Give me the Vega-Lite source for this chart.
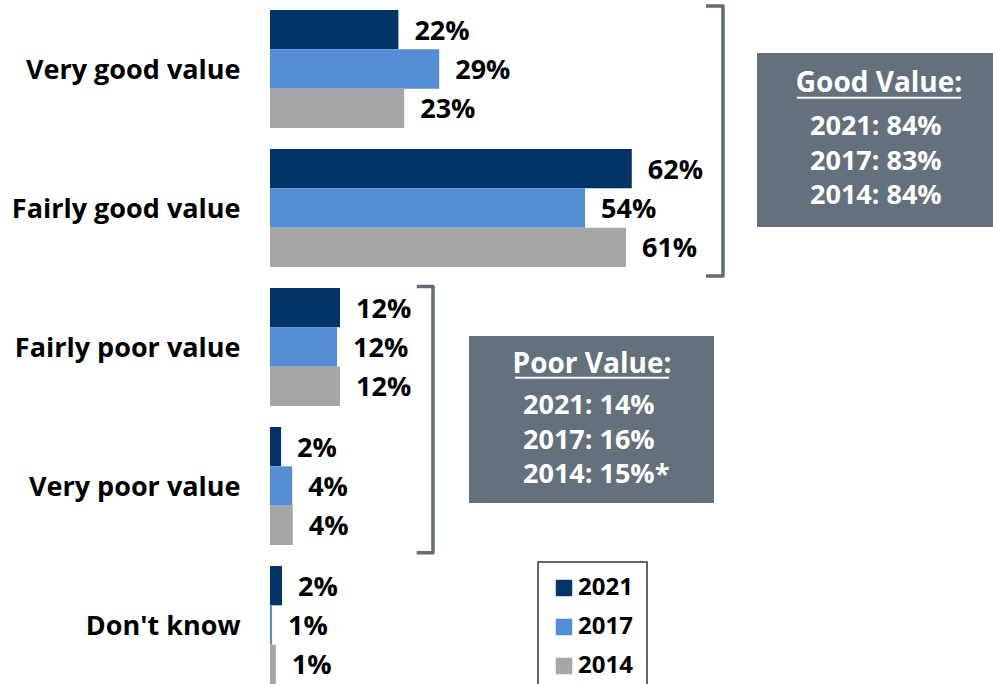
{
  "$schema": "https://vega.github.io/schema/vega-lite/v6.json",
  "width": 723,
  "height": 684,
  "autosize": {"type": "none"},
  "padding": {"left": 270, "top": 0, "right": 0, "bottom": 0},
  "config": {
    "view": {"stroke": null},
    "font": "Open Sans",
    "legend": {"strokeWidth": 1.5}
  },
  "layer": [
    {
      "data": {
        "values": [
          {"category": "Very good value", "year": "2021", "value": 22, "label": "22%"},
          {"category": "Very good value", "year": "2017", "value": 29, "label": "29%"},
          {"category": "Very good value", "year": "2014", "value": 23, "label": "23%"},
          {"category": "Fairly good value", "year": "2021", "value": 62, "label": "62%"},
          {"category": "Fairly good value", "year": "2017", "value": 54, "label": "54%"},
          {"category": "Fairly good value", "year": "2014", "value": 61, "label": "61%"},
          {"category": "Fairly poor value", "year": "2021", "value": 12, "label": "12%"},
          {"category": "Fairly poor value", "year": "2017", "value": 11.5, "label": "12%"},
          {"category": "Fairly poor value", "year": "2014", "value": 12, "label": "12%"},
          {"category": "Very poor value", "year": "2021", "value": 1.9, "label": "2%"},
          {"category": "Very poor value", "year": "2017", "value": 3.8, "label": "4%"},
          {"category": "Very poor value", "year": "2014", "value": 3.9, "label": "4%"},
          {"category": "Don't know", "year": "2021", "value": 2.05, "label": "2%"},
          {"category": "Don't know", "year": "2017", "value": 0.35, "label": "1%"},
          {"category": "Don't know", "year": "2014", "value": 1.0, "label": "1%"}
        ]
      },
      "encoding": {
        "y": {
          "field": "category", "type": "nominal", "sort": null,
          "scale": {"paddingInner": 0.1511, "paddingOuter": 0.036, "align": 1},
          "axis": {"title": null, "domain": false, "ticks": false, "labelPadding": 30,
                   "labelFontSize": 27, "labelFontWeight": "bold", "labelColor": "#000000",
                   "labelFont": "Open Sans", "labelLimit": 300, "labelOffset": 2}
        },
        "yOffset": {"field": "year", "type": "nominal", "sort": ["2021", "2017", "2014"],
                    "scale": {"paddingInner": 0, "paddingOuter": 0}},
        "x": {"field": "value", "type": "quantitative", "scale": {"domain": [0, 123.9], "nice": false, "zero": true}, "axis": null}
      },
      "layer": [
        {
          "mark": {"type": "bar"},
          "encoding": {
            "color": {
              "field": "year", "type": "nominal",
              "scale": {"domain": ["2021", "2017", "2014"], "range": ["#023467", "#558ED5", "#A6A6A6"]},
              "legend": {
                "title": null, "orient": "none", "legendX": 268, "legendY": 562,
                "direction": "vertical",
                "symbolType": "square", "symbolSize": 272, "symbolStrokeWidth": 0,
                "labelFontSize": 24, "labelFontWeight": "bold", "labelColor": "#000000",
                "labelFont": "Open Sans",
                "labelOffset": 2, "rowPadding": 15, "padding": 14,
                "strokeColor": "#333333", "fillColor": "#FFFFFF"
              }
            }
          }
        },
        {
          "mark": {"type": "text", "align": "left", "baseline": "middle", "dx": 16, "dy": 2,
                   "fontSize": 27, "fontWeight": "bold", "color": "#000000", "font": "Open Sans"},
          "encoding": {"text": {"field": "label"}}
        }
      ]
    },
    {
      "data": {
        "values": [
          {"group": "good", "i": 0, "x": 74.72, "y": -0.029},
          {"group": "good", "i": 1, "x": 77.63, "y": -0.029},
          {"group": "good", "i": 2, "x": 77.63, "y": 1.914},
          {"group": "good", "i": 3, "x": 74.72, "y": 1.914},
          {"group": "poor", "i": 0, "x": 25.14, "y": 1.99},
          {"group": "poor", "i": 1, "x": 27.93, "y": 1.99},
          {"group": "poor", "i": 2, "x": 27.93, "y": 3.904},
          {"group": "poor", "i": 3, "x": 25.14, "y": 3.904}
        ]
      },
      "mark": {"type": "line", "color": "#5F6B76", "strokeWidth": 3.5, "strokeJoin": "round", "strokeCap": "butt"},
      "encoding": {
        "x": {"field": "x", "type": "quantitative", "scale": {"domain": [0, 123.9], "nice": false, "zero": true}, "axis": null},
        "y": {"field": "y", "type": "quantitative", "scale": {"domain": [-0.0719, 4.849], "reverse": true, "nice": false, "zero": false}, "axis": null},
        "detail": {"field": "group"},
        "order": {"field": "i"}
      }
    },
    {
      "data": {
        "values": [
          {"box": "good", "x1": 83.46, "x2": 124, "y1": 0.309, "y2": 1.561},
          {"box": "poor", "x1": 34.10, "x2": 76.09, "y1": 2.345, "y2": 3.547}
        ]
      },
      "mark": {"type": "rect", "color": "#64707B"},
      "encoding": {
        "x": {"field": "x1", "type": "quantitative", "scale": {"domain": [0, 123.9], "nice": false, "zero": true}, "axis": null},
        "x2": {"field": "x2"},
        "y": {"field": "y1", "type": "quantitative", "scale": {"domain": [-0.0719, 4.849], "reverse": true, "nice": false, "zero": false}, "axis": null},
        "y2": {"field": "y2"}
      }
    },
    {
      "data": {
        "values": [
          {"x1": 90.32, "x2": 118.42, "y": 0.631},
          {"x1": 41.99, "x2": 68.38, "y": 2.645}
        ]
      },
      "mark": {"type": "rule", "color": "#FFFFFF", "strokeWidth": 2},
      "encoding": {
        "x": {"field": "x1", "type": "quantitative", "scale": {"domain": [0, 123.9], "nice": false, "zero": true}, "axis": null},
        "x2": {"field": "x2"},
        "y": {"field": "y", "type": "quantitative", "scale": {"domain": [-0.0719, 4.849], "reverse": true, "nice": false, "zero": false}, "axis": null}
      }
    },
    {
      "data": {
        "values": [
          {"x": 104.37, "y": 0.590, "text": "Good Value:"},
          {"x": 55.18, "y": 2.612, "text": "Poor Value:"}
        ]
      },
      "mark": {"type": "text", "align": "center", "baseline": "alphabetic", "fontSize": 28, "fontWeight": "bold", "color": "#FFFFFF", "font": "Open Sans"},
      "encoding": {
        "x": {"field": "x", "type": "quantitative", "scale": {"domain": [0, 123.9], "nice": false, "zero": true}, "axis": null},
        "y": {"field": "y", "type": "quantitative", "scale": {"domain": [-0.0719, 4.849], "reverse": true, "nice": false, "zero": false}, "axis": null},
        "text": {"field": "text"}
      }
    },
    {
      "data": {
        "values": [
          {"x": 92.54, "y": 0.899, "text": "2021: 84%"},
          {"x": 92.54, "y": 1.148, "text": "2017: 83%"},
          {"x": 92.54, "y": 1.396, "text": "2014: 84%"},
          {"x": 43.36, "y": 2.906, "text": "2021: 14%"},
          {"x": 43.36, "y": 3.158, "text": "2017: 16%"},
          {"x": 43.36, "y": 3.403, "text": "2014: 15%*"}
        ]
      },
      "mark": {"type": "text", "align": "left", "baseline": "alphabetic", "fontSize": 27, "fontWeight": "bold", "color": "#FFFFFF", "font": "Open Sans"},
      "encoding": {
        "x": {"field": "x", "type": "quantitative", "scale": {"domain": [0, 123.9], "nice": false, "zero": true}, "axis": null},
        "y": {"field": "y", "type": "quantitative", "scale": {"domain": [-0.0719, 4.849], "reverse": true, "nice": false, "zero": false}, "axis": null},
        "text": {"field": "text"}
      }
    }
  ],
  "resolve": {"scale": {"y": "independent"}}
}
